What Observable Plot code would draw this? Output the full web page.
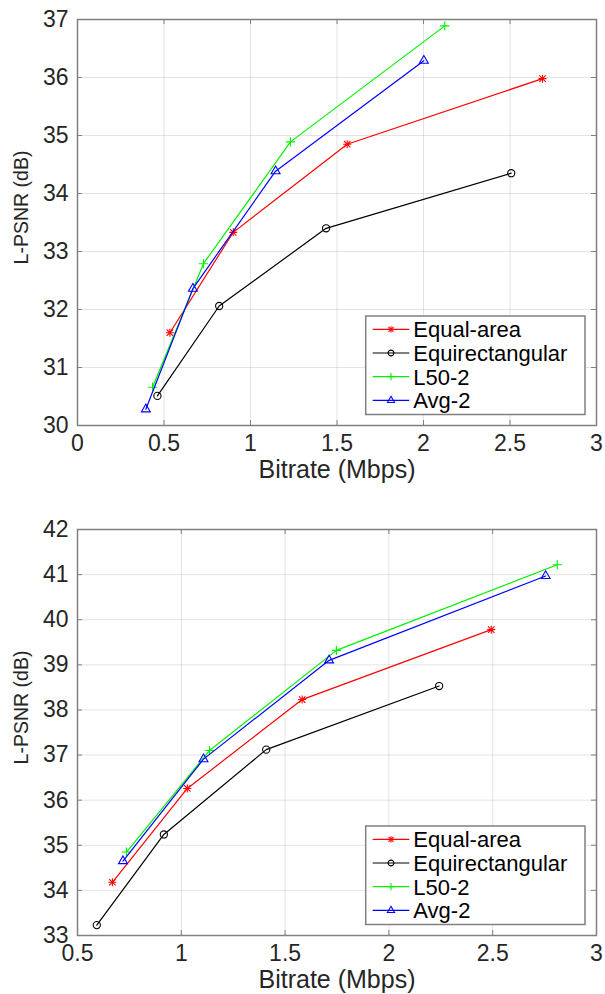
<!DOCTYPE html>
<html><head><meta charset="utf-8">
<script src="https://cdn.jsdelivr.net/npm/d3@7"></script>
<script src="https://cdn.jsdelivr.net/npm/@observablehq/plot@0.6"></script>
<style>
body{margin:0;background:#fff}
#wrap{width:605px}
#wrap svg{display:block}
</style>
</head><body><div id="wrap"></div>
<script>
// ---- data ----
const seriesNames = ["Equal-area", "Equirectangular", "L50-2", "Avg-2"];
const seriesColors = ["#ff0000", "#000000", "#00f000", "#0000ff"];
const xLabel = "Bitrate (Mbps)";
const yLabel = "L-PSNR (dB)";

// top panel
const topXTicks = [0, 0.5, 1, 1.5, 2, 2.5, 3];
const topYTicks = [30, 31, 32, 33, 34, 35, 36, 37];
const topEqualAreaX = [0.534, 0.900, 1.559, 2.688];
const topEqualAreaY = [31.60, 33.33, 34.85, 35.98];
const topEquirectX = [0.462, 0.819, 1.437, 2.507];
const topEquirectY = [30.51, 32.06, 33.40, 34.35];
const topL50X = [0.434, 0.728, 1.231, 2.123];
const topL50Y = [30.66, 32.79, 34.89, 36.89];
const topAvgX = [0.395, 0.667, 1.145, 2.002];
const topAvgY = [30.28, 32.36, 34.385, 36.29];

// bottom panel
const botXTicks = [0.5, 1, 1.5, 2, 2.5, 3];
const botYTicks = [33, 34, 35, 36, 37, 38, 39, 40, 41, 42];
const botEqualAreaX = [0.668, 1.029, 1.582, 2.493];
const botEqualAreaY = [34.18, 36.26, 38.23, 39.78];
const botEquirectX = [0.593, 0.916, 1.409, 2.242];
const botEquirectY = [33.23, 35.24, 37.12, 38.53];
const botL50X = [0.736, 1.136, 1.747, 2.811];
const botL50Y = [34.85, 37.10, 39.32, 41.22];
const botAvgX = [0.719, 1.107, 1.712, 2.755];
const botAvgY = [34.65, 36.91, 39.10, 40.97];

// ---- styling ----
const FONT = "'Liberation Sans', Arial, Helvetica, sans-serif";
const axisGray = "#808080";
const textColor = "#262626";
const markerSpecs = [
  [{symbol: "plus", r: 2.7}, {symbol: "times", r: 3.0}],
  [{symbol: "circle", r: 3.6}],
  [{symbol: "plus", r: 3.1}],
  [{symbol: "triangle", r: 3.3}]
];
const symbolMap = {plus: d3.symbolPlus, times: d3.symbolTimes, circle: d3.symbolCircle, triangle: d3.symbolTriangle};
const fmt = d3.format("~g");

function rows(xs, ys) { return xs.map((x, i) => ({x, y: ys[i]})); }

function panel(cfg) {
  const W = 605, ml = 77, mr = 9;
  const fh = cfg.height - cfg.mt - cfg.mb;
  const fw = W - ml - mr;
  const tick = 5;
  const marks = [
    Plot.gridX(cfg.xTicks, {stroke: "#000", strokeOpacity: 0.11, strokeWidth: 1}),
    Plot.gridY(cfg.yTicks, {stroke: "#000", strokeOpacity: 0.11, strokeWidth: 1}),
    Plot.tickX(cfg.xTicks, {x: d => d, insetTop: fh - tick, stroke: axisGray, strokeWidth: 1}),
    Plot.tickX(cfg.xTicks, {x: d => d, insetBottom: fh - tick, stroke: axisGray, strokeWidth: 1}),
    Plot.tickY(cfg.yTicks, {y: d => d, insetRight: fw - tick, stroke: axisGray, strokeWidth: 1}),
    Plot.tickY(cfg.yTicks, {y: d => d, insetLeft: fw - tick, stroke: axisGray, strokeWidth: 1})
  ];
  cfg.series.forEach((s, i) => {
    const data = rows(s[0], s[1]);
    marks.push(Plot.line(data, {x: "x", y: "y", stroke: seriesColors[i], strokeWidth: 1.2}));
    markerSpecs[i].forEach(m => {
      marks.push(Plot.dot(data, {x: "x", y: "y", symbol: m.symbol, r: m.r, fill: "none", stroke: seriesColors[i], strokeWidth: 1.1}));
    });
  });
  marks.push(
    Plot.frame({stroke: axisGray, strokeWidth: 1.5}),
    Plot.axisX(cfg.xTicks, {tickSize: 0, tickPadding: 9, label: null, fontSize: 23, fill: textColor, tickFormat: fmt}),
    Plot.axisY(cfg.yTicks, {tickSize: 0, tickPadding: 9, label: null, fontSize: 23, fill: textColor, tickFormat: fmt}),
    Plot.text([xLabel], {frameAnchor: "bottom", textAnchor: "middle", dy: cfg.xlabelDy, text: d => d, fontSize: 25, fill: textColor}),
    Plot.text([yLabel], {frameAnchor: "left", textAnchor: "middle", rotate: -90, dx: -56, dy: cfg.ylabelDy, text: d => d, fontSize: 19.5, fill: textColor})
  );
  const chart = Plot.plot({
    width: W, height: cfg.height,
    marginLeft: ml, marginRight: mr, marginTop: cfg.mt, marginBottom: cfg.mb,
    x: {domain: cfg.xDomain},
    y: {domain: cfg.yDomain},
    style: {fontFamily: FONT, fontSize: "23px", color: textColor, background: "#fff", overflow: "visible"},
    marks
  });

  // legend (inside plot, bottom-right)
  const lw = 219.3, lh = 98.5;
  const x0 = ml + fw - 11 - lw;
  const y0 = cfg.mt + fh - 10.5 - lh;
  const svg = d3.select(chart);
  const g = svg.append("g").attr("font-family", FONT).attr("font-size", 22).attr("text-anchor", "start");
  g.append("rect").attr("x", x0).attr("y", y0).attr("width", lw).attr("height", lh)
    .attr("fill", "#fff").attr("stroke", axisGray).attr("stroke-width", 1.5);
  seriesNames.forEach((name, i) => {
    const yy = y0 + 13.3 + i * 23.7;
    g.append("line").attr("x1", x0 + 7).attr("x2", x0 + 43.6).attr("y1", yy).attr("y2", yy)
      .attr("stroke", seriesColors[i]).attr("stroke-width", 1.2);
    markerSpecs[i].forEach(m => {
      const rr = m.r * 0.8;
      g.append("path").attr("d", d3.symbol().type(symbolMap[m.symbol]).size(Math.PI * rr * rr)())
        .attr("transform", `translate(${x0 + 25.3},${yy})`)
        .attr("fill", "none").attr("stroke", seriesColors[i]).attr("stroke-width", 1.1);
    });
    g.append("text").attr("x", x0 + 47.6).attr("y", yy).attr("dy", "0.36em")
      .attr("text-anchor", "start").attr("fill", "#000").text(name);
  });
  return chart;
}

const wrap = document.getElementById("wrap");
wrap.appendChild(panel({
  height: 497, mt: 19, mb: 72,
  xDomain: [0, 3], yDomain: [30, 37],
  xTicks: topXTicks, yTicks: topYTicks, ylabelDy: -15, xlabelDy: 52,
  series: [[topEqualAreaX, topEqualAreaY], [topEquirectX, topEquirectY], [topL50X, topL50Y], [topAvgX, topAvgY]]
}));
wrap.appendChild(panel({
  height: 497, mt: 32, mb: 59,
  xDomain: [0.5, 3], yDomain: [33, 42],
  xTicks: botXTicks, yTicks: botYTicks, ylabelDy: -25, xlabelDy: 52,
  series: [[botEqualAreaX, botEqualAreaY], [botEquirectX, botEquirectY], [botL50X, botL50Y], [botAvgX, botAvgY]]
}));
</script>
</body></html>
